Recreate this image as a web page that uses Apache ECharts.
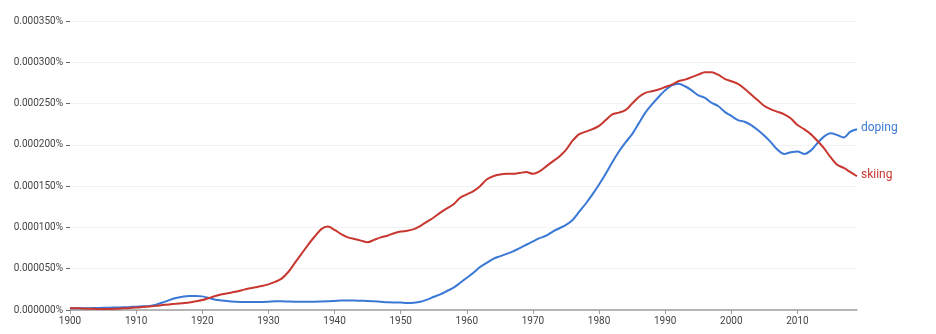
<!DOCTYPE html>
<html>
<head>
<meta charset="utf-8">
<script src="https://cdn.jsdelivr.net/npm/echarts@6/dist/echarts.min.js"></script>
<style>
html,body{margin:0;padding:0;background:#fff;}
#chart{width:936px;height:334px;}
</style>
</head>
<body>
<div id="chart"></div>
<script>
// Years 1900..2019
const years = [];
for (let y = 1900; y <= 2019; y++) years.push(y);

const seriesNames = ["doping", "skiing"];

// values in percent
const doping = [
0.0000020,0.0000020,0.0000020,0.0000022,0.0000024,0.0000026,0.0000028,0.0000030,0.0000033,0.0000036,
0.0000040,0.0000045,0.0000050,0.0000065,0.0000090,0.0000120,0.0000145,0.0000160,0.0000170,0.0000170,
0.0000165,0.0000145,0.0000125,0.0000115,0.0000105,0.0000100,0.0000098,0.0000097,0.0000097,0.0000098,
0.0000100,0.0000105,0.0000105,0.0000102,0.0000100,0.0000100,0.0000100,0.0000100,0.0000102,0.0000105,
0.0000110,0.0000115,0.0000115,0.0000115,0.0000112,0.0000110,0.0000105,0.0000100,0.0000095,0.0000092,
0.0000090,0.0000085,0.0000088,0.0000100,0.0000125,0.0000160,0.0000190,0.0000230,0.0000270,0.0000330,
0.0000390,0.0000450,0.0000520,0.0000570,0.0000620,0.0000650,0.0000680,0.0000710,0.0000750,0.0000790,
0.0000830,0.0000870,0.0000900,0.0000950,0.0000990,0.0001030,0.0001090,0.0001190,0.0001290,0.0001400,
0.0001520,0.0001650,0.0001790,0.0001920,0.0002030,0.0002130,0.0002260,0.0002390,0.0002490,0.0002580,
0.0002660,0.0002720,0.0002740,0.0002710,0.0002660,0.0002600,0.0002570,0.0002510,0.0002470,0.0002400,
0.0002350,0.0002300,0.0002280,0.0002240,0.0002180,0.0002110,0.0002030,0.0001940,0.0001890,0.0001910,
0.0001920,0.0001890,0.0001930,0.0002020,0.0002100,0.0002140,0.0002120,0.0002090,0.0002160,0.0002190
];

const skiing = [
0.0000020,0.0000020,0.0000018,0.0000015,0.0000013,0.0000012,0.0000012,0.0000015,0.0000020,0.0000025,
0.0000030,0.0000035,0.0000042,0.0000050,0.0000060,0.0000068,0.0000075,0.0000083,0.0000090,0.0000105,
0.0000120,0.0000145,0.0000170,0.0000190,0.0000205,0.0000220,0.0000240,0.0000260,0.0000275,0.0000290,
0.0000310,0.0000340,0.0000380,0.0000460,0.0000570,0.0000680,0.0000790,0.0000890,0.0000980,0.0001010,
0.0000970,0.0000920,0.0000880,0.0000860,0.0000840,0.0000820,0.0000850,0.0000880,0.0000900,0.0000930,
0.0000950,0.0000960,0.0000980,0.0001020,0.0001070,0.0001120,0.0001180,0.0001230,0.0001280,0.0001360,
0.0001400,0.0001440,0.0001500,0.0001580,0.0001620,0.0001640,0.0001650,0.0001650,0.0001660,0.0001670,
0.0001650,0.0001680,0.0001740,0.0001800,0.0001860,0.0001940,0.0002050,0.0002130,0.0002160,0.0002190,
0.0002230,0.0002300,0.0002370,0.0002390,0.0002420,0.0002500,0.0002580,0.0002630,0.0002650,0.0002670,
0.0002700,0.0002730,0.0002770,0.0002790,0.0002820,0.0002850,0.0002880,0.0002880,0.0002850,0.0002800,
0.0002770,0.0002740,0.0002680,0.0002610,0.0002540,0.0002470,0.0002430,0.0002400,0.0002370,0.0002320,
0.0002240,0.0002190,0.0002130,0.0002050,0.0001960,0.0001850,0.0001760,0.0001720,0.0001670,0.0001620
];

const xTicks = [1900,1910,1920,1930,1940,1950,1960,1970,1980,1990,2000,2010];
const yTicks = [0,0.00005,0.0001,0.00015,0.0002,0.00025,0.0003,0.00035];

const colors = ["#3a78d6", "#c8372f"];

const chart = echarts.init(document.getElementById('chart'));
const font = 'Roboto, "Noto Sans", Arial, sans-serif';

function mk(name, vals, color) {
  return {
    name: name,
    type: 'line',
    data: years.map((y, i) => [y, vals[i]]),
    smooth: 0.3,
    showSymbol: false,
    lineStyle: { width: 2, color: color },
    itemStyle: { color: color },
    endLabel: {
      show: true,
      formatter: '{a}',
      color: color,
      fontSize: 12,
      fontFamily: font,
      distance: 4,
      offset: [0, -1]
    },
    animation: false
  };
}

chart.setOption({
  animation: false,
  grid: { left: 70, right: 79, top: 21, bottom: 24, containLabel: false },
  xAxis: {
    type: 'value',
    min: 1900,
    max: 2019,
    interval: 10,
    axisLine: { show: true, lineStyle: { color: '#9e9e9e', width: 1.5 } },
    axisTick: { show: true, length: 4, customValues: xTicks, lineStyle: { color: '#9e9e9e' } },
    axisLabel: {
      customValues: xTicks,
      formatter: v => String(v),
      color: '#444',
      fontSize: 10,
      fontFamily: font,
      margin: 6
    },
    splitLine: { show: false }
  },
  yAxis: {
    type: 'value',
    min: 0,
    max: 0.00035,
    interval: 0.00005,
    axisLine: { show: false },
    axisTick: { show: true, length: 4, customValues: yTicks, lineStyle: { color: '#666' } },
    axisLabel: {
      customValues: yTicks,
      formatter: v => v.toFixed(6) + '%',
      color: '#444',
      fontSize: 10,
      fontFamily: font,
      margin: 7
    },
    splitLine: { show: true, lineStyle: { color: '#f2f2f2', width: 1 } }
  },
  series: [mk(seriesNames[0], doping, colors[0]), mk(seriesNames[1], skiing, colors[1])]
});
</script>
</body>
</html>
